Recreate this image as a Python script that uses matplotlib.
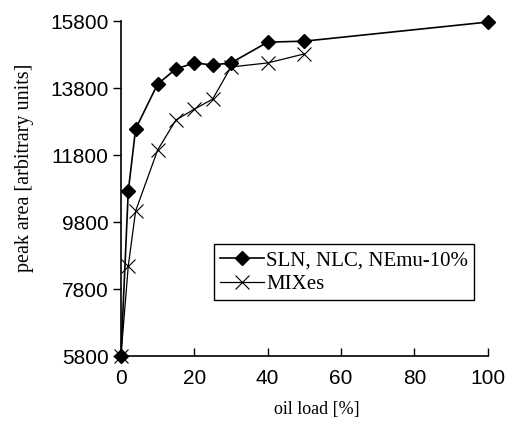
import matplotlib.pyplot as plt

# data
sln_load = [0, 2, 4, 10, 15, 20, 25, 30, 40, 50, 100]
sln_area = [5800, 10720, 12580, 13920, 14370, 14550, 14490, 14550, 15170, 15200, 15770]

mix_load = [0, 2, 4, 10, 15, 20, 25, 30, 40, 50]
mix_area = [5800, 8490, 10130, 11950, 12850, 13170, 13470, 14430, 14550, 14820]

x_ticks = [0, 20, 40, 60, 80, 100]
y_ticks = [5800, 7800, 9800, 11800, 13800, 15800]

fig = plt.figure(figsize=(5.06, 4.21), dpi=100)
ax = fig.add_axes([0.239, 0.154, 0.725, 0.796])

ax.plot(mix_load, mix_area, color='black', lw=0.9, marker='x', markersize=10,
        markeredgewidth=0.8, label='MIXes', clip_on=False, zorder=2)
ax.plot(sln_load, sln_area, color='black', lw=1.2, marker='D', markersize=7,
        label='SLN, NLC, NEmu-10%', clip_on=False, zorder=3)

ax.set_xlim(0, 100)
ax.set_ylim(5800, 15800)
ax.set_xticks(x_ticks)
ax.set_yticks(y_ticks)

for s in ['top', 'right']:
    ax.spines[s].set_visible(False)
for s in ['left', 'bottom']:
    ax.spines[s].set_linewidth(1.2)

ax.tick_params(axis='x', direction='in', length=6, width=1, labelsize=15, pad=9)
ax.tick_params(axis='y', direction='out', length=6, width=1, labelsize=15, pad=3)
for lab in ax.get_xticklabels() + ax.get_yticklabels():
    lab.set_family('Liberation Sans')

ax.set_xlabel('oil load [%]', family='Liberation Serif', fontsize=13)
ax.set_ylabel('peak area [arbitrary units]', family='Liberation Serif', fontsize=14.5)
ax.xaxis.set_label_coords(0.534, -0.135)
ax.yaxis.set_label_coords(-0.236, 0.561)

h, l = ax.get_legend_handles_labels()
leg = ax.legend(h[::-1], l[::-1], loc='upper left', bbox_to_anchor=(0.254, 0.334),
                frameon=True, fancybox=False, edgecolor='black', framealpha=1,
                prop={'family': 'Liberation Serif', 'size': 15},
                borderpad=0.3, labelspacing=0.2, handlelength=2.1, handletextpad=0.1,
                borderaxespad=0)
leg.get_frame().set_linewidth(1)

fig.savefig('out.png', dpi=100)
